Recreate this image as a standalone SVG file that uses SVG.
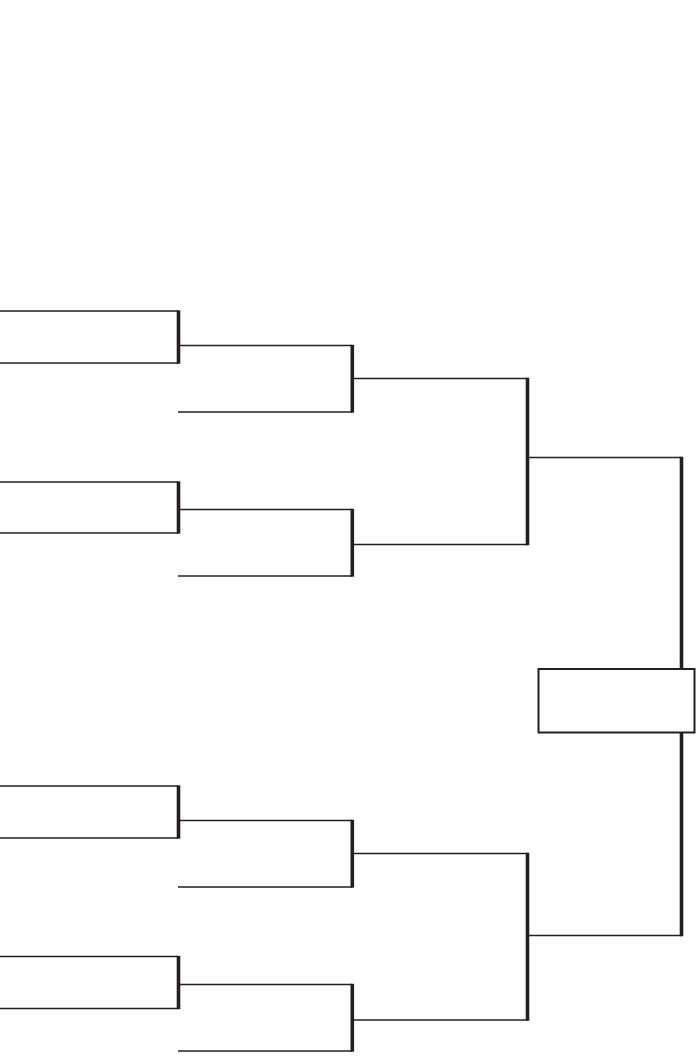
<svg xmlns="http://www.w3.org/2000/svg" width="700" height="1064" viewBox="0 0 700 1064">
<style>
.slot{stroke:#231f20;stroke-width:1.4;fill:none}
.bar{stroke:#231f20;stroke-width:3.6;fill:none;stroke-linecap:butt}
.box{stroke:#231f20;stroke-width:2;fill:#fff}
</style>
<rect width="700" height="1064" fill="#fff"/>
<g id="round1">
<g id="r1-1"><line class="slot" x1="0" y1="311" x2="178" y2="311"/><line class="slot" x1="0" y1="363" x2="178" y2="363"/></g>
<g id="r1-2"><line class="slot" x1="0" y1="482" x2="178" y2="482"/><line class="slot" x1="0" y1="533" x2="178" y2="533"/></g>
<g id="r1-3"><line class="slot" x1="0" y1="786" x2="178" y2="786"/><line class="slot" x1="0" y1="838" x2="178" y2="838"/></g>
<g id="r1-4"><line class="slot" x1="0" y1="956.5" x2="178" y2="956.5"/><line class="slot" x1="0" y1="1008.5" x2="178" y2="1008.5"/></g>
</g>
<g id="round2">
<g id="r2-1"><line class="slot" x1="178" y1="345.5" x2="352" y2="345.5"/><line class="slot" x1="178" y1="412" x2="352" y2="412"/></g>
<g id="r2-2"><line class="slot" x1="178" y1="509.5" x2="352" y2="509.5"/><line class="slot" x1="178" y1="576" x2="352" y2="576"/></g>
<g id="r2-3"><line class="slot" x1="178" y1="820.5" x2="352" y2="820.5"/><line class="slot" x1="178" y1="887" x2="352" y2="887"/></g>
<g id="r2-4"><line class="slot" x1="178" y1="984.5" x2="352" y2="984.5"/><line class="slot" x1="178" y1="1051" x2="352" y2="1051"/></g>
</g>
<g id="round3">
<g id="r3-1"><line class="slot" x1="352" y1="378.5" x2="527.5" y2="378.5"/><line class="slot" x1="352" y1="544.5" x2="527.5" y2="544.5"/></g>
<g id="r3-2"><line class="slot" x1="352" y1="853.5" x2="527.5" y2="853.5"/><line class="slot" x1="352" y1="1020" x2="527.5" y2="1020"/></g>
</g>
<g id="final">
<line class="slot" x1="527.5" y1="457.5" x2="681.5" y2="457.5"/>
<line class="slot" x1="527.5" y1="935.5" x2="681.5" y2="935.5"/>
</g>
<g id="connectors">
<line class="bar" x1="178.5" y1="310.3" x2="178.5" y2="363.7"/>
<line class="bar" x1="178.5" y1="481.3" x2="178.5" y2="533.7"/>
<line class="bar" x1="178.5" y1="785.3" x2="178.5" y2="838.7"/>
<line class="bar" x1="178.5" y1="955.8" x2="178.5" y2="1009.2"/>
<line class="bar" x1="352.3" y1="344.8" x2="352.3" y2="412.7"/>
<line class="bar" x1="352.3" y1="508.8" x2="352.3" y2="576.7"/>
<line class="bar" x1="352.3" y1="819.8" x2="352.3" y2="887.7"/>
<line class="bar" x1="352.3" y1="983.8" x2="352.3" y2="1051.7"/>
<line class="bar" x1="527.5" y1="377.8" x2="527.5" y2="545.2"/>
<line class="bar" x1="527.5" y1="852.8" x2="527.5" y2="1020.7"/>
<line class="bar" x1="681.5" y1="456.8" x2="681.5" y2="936.2"/>
</g>
<g id="champion">
<rect class="box" x="538.5" y="669" width="156" height="63.5"/>
</g>
</svg>
